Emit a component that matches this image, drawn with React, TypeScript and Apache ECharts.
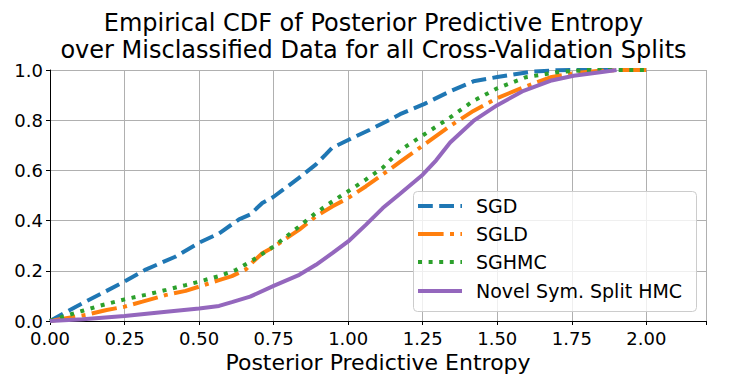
import React, { useEffect, useRef } from "react";
import * as echarts from "echarts";

const TITLE = "Empirical CDF of Posterior Predictive Entropy\nover Misclassified Data for all Cross-Validation Splits";
const X_NAME = "Posterior Predictive Entropy";

const sgdX = [0, 0.087, 0.25, 0.321, 0.42, 0.5, 0.567, 0.634, 0.671, 0.712, 0.75, 0.783, 0.836, 0.892, 0.925, 0.946, 1.0, 1.035, 1.071, 1.138, 1.174, 1.256, 1.342, 1.42, 1.5, 1.617, 1.7, 1.78, 2.0];
const sgdY = [0, 0.057, 0.157, 0.205, 0.256, 0.312, 0.349, 0.405, 0.424, 0.47, 0.495, 0.524, 0.571, 0.624, 0.664, 0.69, 0.721, 0.741, 0.761, 0.801, 0.824, 0.865, 0.915, 0.955, 0.972, 0.994, 0.999, 1.0, 1.0];

const sgldX = [0, 0.054, 0.12, 0.19, 0.25, 0.31, 0.39, 0.455, 0.5, 0.567, 0.61, 0.656, 0.68, 0.712, 0.75, 0.836, 0.892, 0.948, 1.0, 1.06, 1.116, 1.174, 1.228, 1.256, 1.342, 1.42, 1.5, 1.588, 1.678, 1.756, 1.845, 1.92, 2.0];
const sgldY = [0, 0.011, 0.024, 0.044, 0.057, 0.077, 0.104, 0.12, 0.137, 0.163, 0.179, 0.205, 0.235, 0.27, 0.295, 0.364, 0.417, 0.457, 0.49, 0.537, 0.584, 0.634, 0.68, 0.704, 0.777, 0.837, 0.888, 0.931, 0.971, 0.987, 0.997, 1.0, 1.0];

const sghmcX = [0, 0.042, 0.11, 0.165, 0.25, 0.32, 0.39, 0.455, 0.5, 0.567, 0.623, 0.682, 0.75, 0.836, 0.892, 0.948, 1.0, 1.06, 1.116, 1.174, 1.256, 1.342, 1.42, 1.5, 1.595, 1.7, 1.8, 2.0];
const sghmcY = [0, 0.017, 0.041, 0.06, 0.086, 0.104, 0.124, 0.143, 0.157, 0.179, 0.203, 0.244, 0.297, 0.377, 0.431, 0.477, 0.517, 0.564, 0.611, 0.68, 0.744, 0.811, 0.877, 0.927, 0.971, 0.991, 1.0, 1.0];

const hmcX = [0, 0.11, 0.25, 0.39, 0.5, 0.567, 0.61, 0.671, 0.75, 0.836, 0.892, 0.948, 1.0, 1.06, 1.116, 1.172, 1.25, 1.295, 1.342, 1.42, 1.5, 1.588, 1.678, 1.756, 1.845, 1.9];
const hmcY = [0, 0.007, 0.02, 0.037, 0.05, 0.06, 0.075, 0.097, 0.14, 0.184, 0.224, 0.271, 0.317, 0.384, 0.45, 0.505, 0.583, 0.64, 0.711, 0.797, 0.86, 0.917, 0.957, 0.977, 0.991, 1.0];

const X_TICKS = [0, 0.25, 0.5, 0.75, 1.0, 1.25, 1.5, 1.75, 2.0];

const SERIES_NAMES = ["SGD", "SGLD", "SGHMC", "Novel Sym. Split HMC"];
const COLORS = ["#1f77b4", "#ff7f0e", "#2ca02c", "#9467bd"];
const DASHES: any[] = [[14.8, 6.4], [25.6, 6.4, 4, 6.4], [4, 6.6], null];

const zip = (xs: number[], ys: number[]) => xs.map((x, i) => [x, ys[i]]);

const FONT = "DejaVu Sans";

export default function App() {
  const ref = useRef<HTMLDivElement>(null);
  useEffect(() => {
    if (!ref.current) return;
    const chart = echarts.init(ref.current, undefined, { renderer: "svg" });
    const lw = 4;
    const xs = [sgdX, sgldX, sghmcX, hmcX];
    const ys = [sgdY, sgldY, sghmcY, hmcY];
    const series = SERIES_NAMES.map((name, i) => ({
      name,
      type: "line",
      data: zip(xs[i], ys[i]),
      showSymbol: false,
      symbol: "none",
      lineStyle: { color: COLORS[i], width: lw, type: DASHES[i] || "solid", cap: "butt" },
      itemStyle: { color: COLORS[i] },
    }));

    // legend drawn as graphic
    const legendLeft = 413;
    const legendTop = 191;
    const legendW = 283;
    const legendH = 120;
    const rowY = [206, 234, 262, 291];
    const legendEls: any[] = [
      {
        type: "rect",
        left: legendLeft,
        top: legendTop,
        shape: { width: legendW, height: legendH, r: 4 },
        style: { fill: "rgba(255,255,255,0.8)", stroke: "#cccccc", lineWidth: 1 },
        z: 100,
      },
    ];
    SERIES_NAMES.forEach((name, i) => {
      legendEls.push({
        type: "line",
        shape: { x1: legendLeft + 5, y1: rowY[i], x2: legendLeft + 49, y2: rowY[i] },
        style: { stroke: COLORS[i], lineWidth: lw, lineDash: DASHES[i] || undefined, lineCap: "butt" },
        z: 101,
      });
      legendEls.push({
        type: "text",
        x: legendLeft + 63,
        y: rowY[i],
        style: {
          text: name,
          fill: "#000",
          font: `19px "${FONT}"`,
          verticalAlign: "middle",
          align: "left",
        },
        z: 101,
      });
    });

    chart.setOption({
      animation: false,
      backgroundColor: "#ffffff",
      title: {
        text: TITLE,
        left: "center",
        top: 4,
        textStyle: { fontFamily: FONT, fontSize: 24, fontWeight: "normal", color: "#000", lineHeight: 27 },
      },
      grid: { left: 50, right: 41, top: 70, bottom: 65, containLabel: false },
      xAxis: {
        type: "value",
        min: 0,
        max: 2.2,
        interval: 0.25,
        name: X_NAME,
        nameLocation: "middle",
        nameGap: 28,
        nameTextStyle: { fontFamily: FONT, fontSize: 22, color: "#000" },
        axisLine: { show: true, onZero: false, lineStyle: { color: "#000", width: 1 } },
        axisTick: { show: true, length: 4, lineStyle: { color: "#000" } },
        axisLabel: {
          fontFamily: FONT,
          fontSize: 18,
          lineHeight: 14,
          color: "#000",
          margin: 10,
          customValues: X_TICKS,
          formatter: (v: number) => v.toFixed(2),
        },
        splitLine: { show: true, lineStyle: { color: "#b0b0b0", width: 1 } },
      },
      yAxis: {
        type: "value",
        min: 0,
        max: 1,
        interval: 0.2,
        axisLine: { show: true, lineStyle: { color: "#000", width: 1 } },
        axisTick: { show: true, length: 4, lineStyle: { color: "#000" } },
        axisLabel: {
          fontFamily: FONT,
          fontSize: 18,
          lineHeight: 14,
          color: "#000",
          margin: 7,
          formatter: (v: number) => v.toFixed(1),
        },
        splitLine: { show: true, lineStyle: { color: "#b0b0b0", width: 1 } },
      },
      graphic: legendEls,
      series,
    });
    return () => chart.dispose();
  }, []);
  return <div ref={ref} style={{ width: 747, height: 386, position: "absolute", left: 0, top: 0 }} />;
}
